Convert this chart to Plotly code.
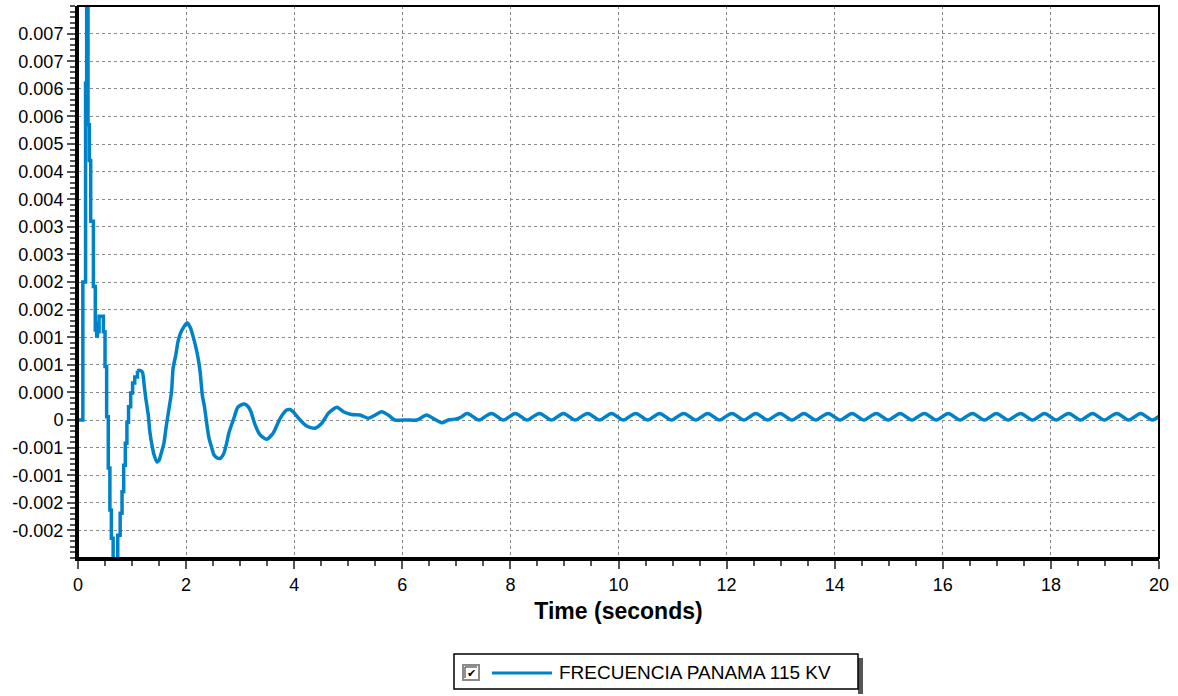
import plotly.graph_objects as go

# ---- data ----
# early transient (stair-step samples, value held until next time)
t_step = [0.00, 0.09, 0.14, 0.16, 0.185, 0.21, 0.235, 0.285, 0.32, 0.345, 0.36, 0.375,
          0.39, 0.47, 0.50, 0.53, 0.56, 0.59, 0.617, 0.65, 0.735, 0.78, 0.815, 0.845,
          0.875, 0.905, 0.935, 0.975, 1.01, 1.05, 1.10]
v_step = [0.0, 0.0025, 0.0061, 0.0080, 0.00535, 0.0047, 0.0036, 0.00242, 0.00163, 0.00152, 0.00175, 0.0016,
          0.00188, 0.0016, 0.00097, 0.00006, -0.00087, -0.00163, -0.00214, -0.0027, -0.00209, -0.00169, -0.0013, -0.00082,
          -0.00042, -0.00004, 0.00024, 0.00049, 0.00067, 0.00078, 0.00089]

# damped oscillation
t_mid = [1.10, 1.13, 1.19, 1.22, 1.25, 1.30, 1.33, 1.375, 1.41, 1.46, 1.50, 1.54, 1.59, 1.63,
         1.68, 1.73, 1.76, 1.81, 1.85, 1.90, 1.96, 2.02, 2.08, 2.13, 2.18, 2.22, 2.26, 2.30,
         2.34, 2.38, 2.42, 2.47, 2.52, 2.58, 2.64, 2.70, 2.75, 2.79, 2.84, 2.89, 2.95, 3.01,
         3.08, 3.15, 3.20, 3.27, 3.37, 3.49, 3.61, 3.74, 3.86, 3.92, 3.98, 4.11, 4.23, 4.38,
         4.51, 4.63, 4.79, 4.91, 5.06, 5.22, 5.37, 5.46, 5.62, 5.74, 5.86, 6.08, 6.27, 6.45,
         6.57, 6.73, 6.85, 6.94]
v_mid = [0.00089, 0.00090, 0.00087, 0.00067, 0.00042, 0.00009, -0.00022, -0.00049, -0.00064, -0.00076, -0.00073, -0.0006, -0.00042, -0.00013,
         0.00018, 0.00051, 0.00094, 0.00118, 0.00142, 0.00158, 0.00169, 0.00176, 0.00167, 0.00151, 0.00132, 0.00113, 0.00087, 0.00045,
         0.00024, -0.00005, -0.00031, -0.00049, -0.00064, -0.00069, -0.00069, -0.0006, -0.00042, -0.00024, -0.00009, 0.00005, 0.00022, 0.00027,
         0.00029, 0.00024, 0.00015, -0.00007, -0.00027, -0.00035, -0.00024, 0.00003, 0.00018, 0.00019, 0.00015, 0.0, -0.00011, -0.00015,
         -0.00006, 0.00012, 0.00023, 0.00015, 0.0001, 0.00009, 0.00003, 0.00007, 0.00015, 0.00009, 0.0, 0.0, 0.0, 0.00009,
         0.00003, -0.00005, 0.0, 0.00001]

# small sustained oscillation (one row per cycle: peak, falling, trough, rising)
t_tail = [6.94, 7.00, 7.10,
          7.20, 7.31, 7.42, 7.53,      # 1
          7.65, 7.76, 7.87, 7.98,      # 2
          8.09, 8.20, 8.31, 8.42,      # 3
          8.54, 8.65, 8.76, 8.87,      # 4
          8.98, 9.09, 9.20, 9.31,      # 5
          9.43, 9.54, 9.65, 9.76,      # 6
          9.87, 9.98, 10.09, 10.20,    # 7
          10.32, 10.43, 10.54, 10.65,  # 8
          10.76, 10.87, 10.98, 11.09,  # 9
          11.21, 11.32, 11.43, 11.54,  # 10
          11.65, 11.76, 11.87, 11.98,  # 11
          12.10, 12.21, 12.32, 12.43,  # 12
          12.54, 12.65, 12.76, 12.87,  # 13
          12.99, 13.10, 13.21, 13.32,  # 14
          13.43, 13.54, 13.65, 13.76,  # 15
          13.88, 13.99, 14.10, 14.21,  # 16
          14.32, 14.43, 14.54, 14.65,  # 17
          14.77, 14.88, 14.99, 15.10,  # 18
          15.21, 15.32, 15.43, 15.54,  # 19
          15.66, 15.77, 15.88, 15.99,  # 20
          16.10, 16.21, 16.32, 16.43,  # 21
          16.55, 16.66, 16.77, 16.88,  # 22
          16.99, 17.10, 17.21, 17.32,  # 23
          17.44, 17.55, 17.66, 17.77,  # 24
          17.88, 17.99, 18.10, 18.21,  # 25
          18.33, 18.44, 18.55, 18.66,  # 26
          18.77, 18.88, 18.99, 19.10,  # 27
          19.22, 19.33, 19.44, 19.55,  # 28
          19.66, 19.77, 19.88, 19.99,  # 29
          20.00]
v_tail = [0.00001, 0.00002, 0.00006,
          0.00012, 0.00006, 0.0, 0.00006,  # 1
          0.00012, 0.00006, 0.0, 0.00006,  # 2
          0.00012, 0.00006, 0.0, 0.00006,  # 3
          0.00012, 0.00006, 0.0, 0.00006,  # 4
          0.00012, 0.00006, 0.0, 0.00006,  # 5
          0.00012, 0.00006, 0.0, 0.00006,  # 6
          0.00012, 0.00006, 0.0, 0.00006,  # 7
          0.00012, 0.00006, 0.0, 0.00006,  # 8
          0.00012, 0.00006, 0.0, 0.00006,  # 9
          0.00012, 0.00006, 0.0, 0.00006,  # 10
          0.00012, 0.00006, 0.0, 0.00006,  # 11
          0.00012, 0.00006, 0.0, 0.00006,  # 12
          0.00012, 0.00006, 0.0, 0.00006,  # 13
          0.00012, 0.00006, 0.0, 0.00006,  # 14
          0.00012, 0.00006, 0.0, 0.00006,  # 15
          0.00012, 0.00006, 0.0, 0.00006,  # 16
          0.00012, 0.00006, 0.0, 0.00006,  # 17
          0.00012, 0.00006, 0.0, 0.00006,  # 18
          0.00012, 0.00006, 0.0, 0.00006,  # 19
          0.00012, 0.00006, 0.0, 0.00006,  # 20
          0.00012, 0.00006, 0.0, 0.00006,  # 21
          0.00012, 0.00006, 0.0, 0.00006,  # 22
          0.00012, 0.00006, 0.0, 0.00006,  # 23
          0.00012, 0.00006, 0.0, 0.00006,  # 24
          0.00012, 0.00006, 0.0, 0.00006,  # 25
          0.00012, 0.00006, 0.0, 0.00006,  # 26
          0.00012, 0.00006, 0.0, 0.00006,  # 27
          0.00012, 0.00006, 0.0, 0.00006,  # 28
          0.00012, 0.00006, 0.0, 0.00006,  # 29
          0.00007]
assert len(t_tail) == len(v_tail)
assert len(t_mid) == len(v_mid)
assert len(t_step) == len(v_step)

y_tickvals = [-0.002, -0.0015, -0.001, -0.0005, 0.0, 0.0005, 0.001, 0.0015, 0.002, 0.0025,
              0.003, 0.0035, 0.004, 0.0045, 0.005, 0.0055, 0.006, 0.0065, 0.007]
y_ticktext = ["-0.002", "-0.002", "-0.001", "-0.001", "0", "0.000", "0.001", "0.001", "0.002", "0.002",
              "0.003", "0.003", "0.004", "0.004", "0.005", "0.006", "0.006", "0.007", "0.007"]
x_tickvals = [0, 2, 4, 6, 8, 10, 12, 14, 16, 18, 20]
x_ticktext = ["0", "2", "4", "6", "8", "10", "12", "14", "16", "18", "20"]

series_name = "FRECUENCIA PANAMA 115 KV"
x_title = "Time (seconds)"

# ---- styling ----
BLUE = "#0082C8"
FONT = "Liberation Sans, Arial, Helvetica, sans-serif"
W, H = 1178, 696
ML, MR, MT, MB = 78, 19, 6, 138
PW, PH = W - ML - MR, H - MT - MB
LW = 3.5


def px(x):
    return (x - ML) / PW


def py(y):
    return (H - MB - y) / PH


fig = go.Figure()
fig.add_trace(go.Scatter(x=t_step, y=v_step, mode="lines", line=dict(color=BLUE, width=LW, shape="hv"),
                         name=series_name, showlegend=False, hoverinfo="skip"))
fig.add_trace(go.Scatter(x=t_mid, y=v_mid, mode="lines", line=dict(color=BLUE, width=LW, shape="spline", smoothing=0.6),
                         name=series_name, showlegend=False, hoverinfo="skip"))
fig.add_trace(go.Scatter(x=t_tail, y=v_tail, mode="lines", line=dict(color=BLUE, width=LW, shape="spline", smoothing=1),
                         name=series_name, showlegend=False, hoverinfo="skip"))

fig.update_layout(
    width=W, height=H,
    margin=dict(l=ML, r=MR, t=MT, b=MB),
    paper_bgcolor="white", plot_bgcolor="white",
    font=dict(family=FONT, size=18, color="black"),
    showlegend=False,
)

fig.update_xaxes(
    range=[0, 20], tickmode="array", tickvals=x_tickvals, ticktext=x_ticktext,
    showline=True, linecolor="black", linewidth=3,
    ticks="outside", ticklen=8, tickwidth=1.5, tickcolor="#555",
    showgrid=True, gridcolor="#8a8a8a", griddash="dot", gridwidth=1,
    zeroline=False,
    minor=dict(tickmode="linear", tick0=0, dtick=0.5, ticks="outside", ticklen=5, tickwidth=1.5,
               tickcolor="#555", showgrid=False),
    tickfont=dict(size=18),
    title=dict(text="<b>" + x_title + "</b>", font=dict(size=23), standoff=10),
)
fig.update_yaxes(
    range=[-0.0025, 0.0075], tickmode="array", tickvals=y_tickvals, ticktext=y_ticktext,
    showline=True, linecolor="black", linewidth=3,
    ticks="outside", ticklen=8, tickwidth=1.5, tickcolor="#555",
    showgrid=True, gridcolor="#8a8a8a", griddash="dot", gridwidth=1,
    zeroline=False,
    minor=dict(tickmode="linear", tick0=0, dtick=0.0001, ticks="outside", ticklen=5, tickwidth=1.5,
               tickcolor="#555", showgrid=False),
    tickfont=dict(size=18),
)

shapes = []
# frame (top/right)
shapes.append(dict(type="rect", xref="paper", yref="paper", x0=0, x1=1, y0=0, y1=1,
                   line=dict(color="black", width=2), layer="above"))
# legend shadow
shapes.append(dict(type="rect", xref="paper", yref="paper", x0=px(858), x1=px(863), y0=py(694), y1=py(658),
                   fillcolor="#555", line=dict(width=0)))
# legend box
shapes.append(dict(type="rect", xref="paper", yref="paper", x0=px(454), x1=px(858), y0=py(689), y1=py(654),
                   fillcolor="white", line=dict(color="black", width=1.5)))
# checkbox
shapes.append(dict(type="rect", xref="paper", yref="paper", x0=px(463), x1=px(479), y0=py(680), y1=py(665),
                   fillcolor="white", line=dict(color="#8a8a8a", width=2)))
shapes.append(dict(type="line", xref="paper", yref="paper", x0=px(465), x1=px(465), y0=py(678), y1=py(667),
                   line=dict(color="#222", width=1)))
shapes.append(dict(type="line", xref="paper", yref="paper", x0=px(465), x1=px(477), y0=py(667), y1=py(667),
                   line=dict(color="#222", width=1)))
# legend line sample
shapes.append(dict(type="line", xref="paper", yref="paper", x0=px(492), x1=px(552), y0=py(673), y1=py(673),
                   line=dict(color=BLUE, width=3)))
fig.update_layout(shapes=shapes)

fig.add_annotation(xref="paper", yref="paper", x=px(471.5), y=py(673), text="✔", showarrow=False,
                   font=dict(family="DejaVu Sans", size=11, color="black"), xanchor="center", yanchor="middle")
fig.add_annotation(xref="paper", yref="paper", x=px(557), y=py(672), text=series_name, showarrow=False,
                   font=dict(family=FONT, size=19, color="black"), xanchor="left", yanchor="middle")

fig.write_html("out.html", config={"displayModeBar": False},
               post_script="document.body.style.margin='0px';document.body.style.overflow='hidden';")
